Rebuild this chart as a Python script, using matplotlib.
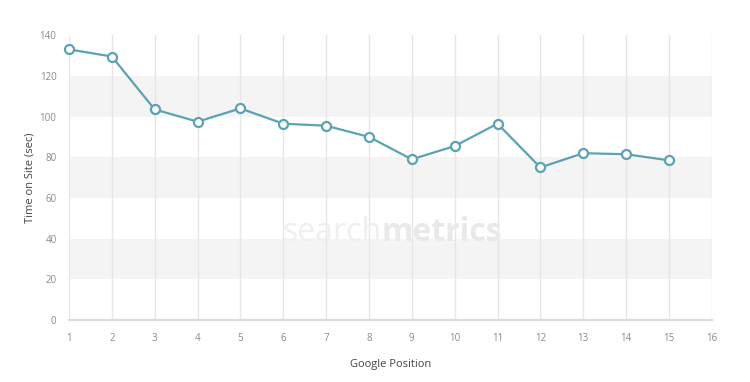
import matplotlib
matplotlib.use("Agg")
import matplotlib.pyplot as plt

# data
positions = [1, 2, 3, 4, 5, 6, 7, 8, 9, 10, 11, 12, 13, 14, 15]
time_on_site = [133, 129.5, 103.5, 97.5, 104, 96.5, 95.5, 90, 79, 85.5, 96.5, 75, 82, 81.5, 78.5]
x_ticks = list(range(1, 17))
y_ticks = [0, 20, 40, 60, 80, 100, 120, 140]
bands = [(20, 40), (60, 80), (100, 120)]

plt.rcParams['font.family'] = ['Open Sans', 'DejaVu Sans']

fig = plt.figure(figsize=(7.5, 3.82), dpi=100)
ax = fig.add_axes([0.092, 0.162, 0.857, 0.746])

for lo, hi in bands:
    ax.axhspan(lo, hi, color='#f4f4f4', zorder=0, lw=0)

for x in x_ticks:
    ax.axvline(x, color='#e6e6e6', lw=1, zorder=1)

# watermark
ax.text(8.3, 43, 'search', fontsize=23, color='#efefef', ha='right', va='center', zorder=1)
ax.text(8.3, 43, 'metrics', fontsize=23, color='#e9e9e9', ha='left', va='center',
        fontweight='bold', zorder=1)

ax.plot(positions, time_on_site, color='#5aa3b4', lw=1.6, marker='o', markersize=6.5,
        markerfacecolor='white', markeredgecolor='#5aa3b4', markeredgewidth=1.6, zorder=3,
        clip_on=False)

ax.set_xlim(1, 16)
ax.set_ylim(0, 140)
ax.set_xticks(x_ticks)
ax.set_yticks(y_ticks)
ax.tick_params(axis='both', length=0, labelsize=7, colors='#8a8a8a')
ax.tick_params(axis='x', pad=9)
ax.tick_params(axis='y', pad=9)

for s in ['top', 'right', 'left']:
    ax.spines[s].set_visible(False)
ax.spines['bottom'].set_color('#dcdcdc')
ax.spines['bottom'].set_linewidth(1.5)

ax.set_xlabel('Google Position', fontsize=8, color='#444444', labelpad=11)
ax.set_ylabel('Time on Site (sec)', fontsize=8, color='#444444', labelpad=3)

fig.savefig('out.png', dpi=100, facecolor='white')
